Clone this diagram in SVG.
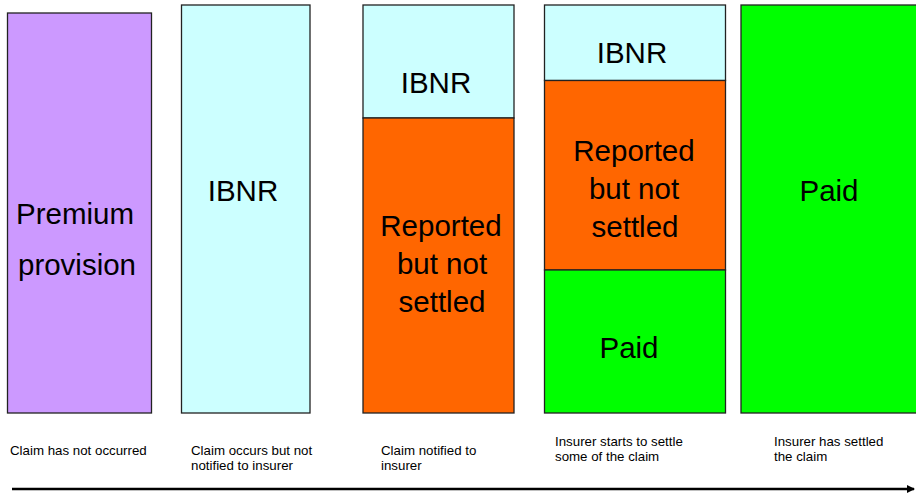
<svg xmlns="http://www.w3.org/2000/svg" width="916" height="495" viewBox="0 0 916 495">
<defs>
<marker id="ah" markerWidth="8" markerHeight="8" refX="7" refY="4" orient="auto" markerUnits="userSpaceOnUse">
<path d="M0,0 L8,4 L0,8 Z" fill="#000"/>
</marker>
</defs>
<style>
.box{stroke:#222;stroke-width:1.3}
.big{font-family:"Liberation Sans",Arial,sans-serif;font-size:29.5px;fill:#000;text-anchor:middle}
.small{font-family:"Liberation Sans",Arial,sans-serif;font-size:13.3px;fill:#000}
</style>
<rect width="916" height="495" fill="#fff"/>
<g id="premium">
<rect class="box" x="7.5" y="13" width="144" height="400" fill="#CC99FF"/>
<text class="big" x="75" y="224">Premium</text>
<text class="big" x="77" y="275">provision</text>
</g>
<g id="stage2">
<rect class="box" x="181.5" y="5" width="128.5" height="408" fill="#CCFFFF"/>
<text class="big" x="243" y="201">IBNR</text>
</g>
<g id="stage3">
<rect class="box" x="363" y="5" width="151" height="113" fill="#CCFFFF"/>
<rect class="box" x="363" y="118" width="151" height="295" fill="#FF6600"/>
<text class="big" x="436" y="93">IBNR</text>
<text class="big" x="441" y="236">Reported</text>
<text class="big" x="442" y="274">but not</text>
<text class="big" x="442" y="312">settled</text>
</g>
<g id="stage4">
<rect class="box" x="544.5" y="5" width="181" height="75.5" fill="#CCFFFF"/>
<rect class="box" x="544.5" y="80.5" width="181" height="189.5" fill="#FF6600"/>
<rect class="box" x="544.5" y="270" width="181" height="143" fill="#00FF00"/>
<text class="big" x="632" y="63">IBNR</text>
<text class="big" x="634" y="161">Reported</text>
<text class="big" x="634" y="199">but not</text>
<text class="big" x="635" y="237">settled</text>
<text class="big" x="629" y="358">Paid</text>
</g>
<g id="stage5">
<rect class="box" x="741" y="5" width="180" height="408" fill="#00FF00"/>
<text class="big" x="829" y="201">Paid</text>
</g>
<g id="labels">
<text class="small" x="10" y="455">Claim has not occurred</text>
<text class="small" x="191" y="455">Claim occurs but not</text>
<text class="small" x="191" y="470">notified to insurer</text>
<text class="small" x="381" y="455">Claim notified to</text>
<text class="small" x="381" y="470">insurer</text>
<text class="small" x="555" y="446">Insurer starts to settle</text>
<text class="small" x="555" y="461">some of the claim</text>
<text class="small" x="774" y="446">Insurer has settled</text>
<text class="small" x="774" y="461">the claim</text>
</g>
<g id="connectors">
<line x1="12" y1="489" x2="914" y2="489" stroke="#000" stroke-width="2.5" marker-end="url(#ah)"/>
</g>
</svg>
